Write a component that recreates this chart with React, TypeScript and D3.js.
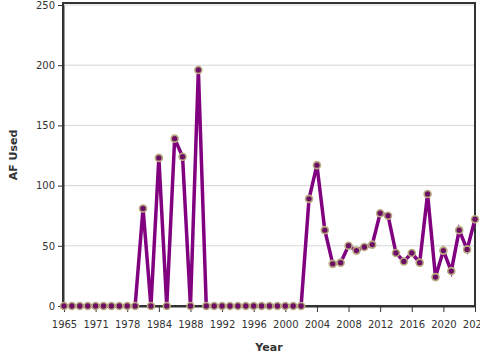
import React, { useEffect, useRef } from 'react';
import * as d3 from 'd3';

// category labels along the x axis (not evenly spaced years early on)
const years = [
  '1965', '1966', '1968', '1969', '1971', '1973', '1974', '1976', '1978', '1980', '1981', '1983',
  '1984', '1985', '1986', '1987', '1988', '1989', '1990', '1991', '1992', '1993', '1994', '1995',
  '1996', '1997', '1998', '1999', '2000', '2001', '2002', '2003', '2004', '2005', '2006', '2007',
  '2008', '2009', '2010', '2011', '2012', '2013', '2014', '2015', '2016', '2017', '2018', '2019',
  '2020', '2021', '2022', '2023', '2024',
];

const afUsed = [
  0, 0, 0, 0, 0, 0, 0, 0, 0, 0, 81, 0,
  123, 0, 139, 124, 0, 196, 0, 0, 0, 0, 0, 0,
  0, 0, 0, 0, 0, 0, 0, 89, 117, 63, 35, 36,
  50, 46, 49, 51, 77, 75, 44, 37, 44, 36, 93, 24,
  46, 29, 63, 47, 72,
];

const yTicks = [0, 50, 100, 150, 200, 250];

const App = () => {
  const svgRef = useRef<SVGSVGElement>(null);

  useEffect(() => {
    const svg = d3.select(svgRef.current);
    svg.selectAll('*').remove();

    const width = 480;
    const height = 360;
    const margin = { top: 4, right: 5, bottom: 54, left: 63 };

    const x = d3
      .scalePoint()
      .domain(years)
      .range([margin.left + 1, width - margin.right]);

    const y = d3
      .scaleLinear()
      .domain([0, 250])
      .range([height - margin.bottom, margin.top + 1]);

    const font = 'DejaVu Sans, sans-serif';

    // grid
    svg
      .append('g')
      .selectAll('line')
      .data(yTicks)
      .join('line')
      .attr('x1', margin.left)
      .attr('x2', width - margin.right)
      .attr('y1', (d) => y(d))
      .attr('y2', (d) => y(d))
      .attr('stroke', '#d6d6d6')
      .attr('stroke-width', 1);

    // frame
    svg
      .append('rect')
      .attr('x', margin.left)
      .attr('y', margin.top - 1)
      .attr('width', width - margin.right - margin.left)
      .attr('height', height - margin.bottom - margin.top + 1)
      .attr('fill', 'none')
      .attr('stroke', '#333')
      .attr('stroke-width', 2);

    const xAxis = svg
      .append('g')
      .attr('transform', `translate(0,${height - margin.bottom})`)
      .call(
        d3
          .axisBottom(x)
          .tickValues(years.filter((_, i) => i % 4 === 0))
          .tickSize(6)
          .tickSizeOuter(0)
      );
    xAxis.select('.domain').attr('stroke', '#333').attr('stroke-width', 2);
    xAxis.selectAll('.tick line').attr('stroke', '#333');
    xAxis
      .selectAll('.tick text')
      .attr('font-family', font)
      .attr('font-size', 10)
      .attr('fill', '#333')
      .attr('dy', '1.25em');

    const yAxis = svg
      .append('g')
      .attr('transform', `translate(${margin.left},0)`)
      .call(d3.axisLeft(y).tickValues(yTicks).tickSize(5).tickSizeOuter(0));
    yAxis.select('.domain').attr('stroke', '#333').attr('stroke-width', 2);
    yAxis.selectAll('.tick line').attr('stroke', '#333');
    yAxis
      .selectAll('.tick text')
      .attr('font-family', font)
      .attr('font-size', 10)
      .attr('fill', '#333');

    svg
      .append('text')
      .attr('x', 269)
      .attr('y', 351)
      .attr('text-anchor', 'middle')
      .attr('font-family', font)
      .attr('font-size', 11)
      .attr('font-weight', 'bold')
      .attr('fill', '#333')
      .text('Year');

    svg
      .append('text')
      .attr('transform', `translate(17,${(margin.top + height - margin.bottom) / 2}) rotate(-90)`)
      .attr('text-anchor', 'middle')
      .attr('font-family', font)
      .attr('font-size', 11)
      .attr('font-weight', 'bold')
      .attr('fill', '#333')
      .text('AF Used');

    const line = d3
      .line<number>()
      .x((_, i) => x(years[i]) as number)
      .y((d) => y(d));

    svg
      .append('path')
      .datum(afUsed)
      .attr('d', line)
      .attr('fill', 'none')
      .attr('stroke', '#800080')
      .attr('stroke-width', 3.5)
      .attr('stroke-linejoin', 'miter');

    svg
      .append('g')
      .selectAll('circle')
      .data(afUsed)
      .join('circle')
      .attr('cx', (_, i) => x(years[i]) as number)
      .attr('cy', (d) => y(d))
      .attr('r', 3.5)
      .attr('fill', '#6e0f66')
      .attr('stroke', '#b8ab80')
      .attr('stroke-width', 1.6);
  }, []);

  return (
    <svg
      ref={svgRef}
      width={480}
      height={360}
      style={{ position: 'absolute', left: 0, top: 0, background: '#fff' }}
    />
  );
};

export default App;
